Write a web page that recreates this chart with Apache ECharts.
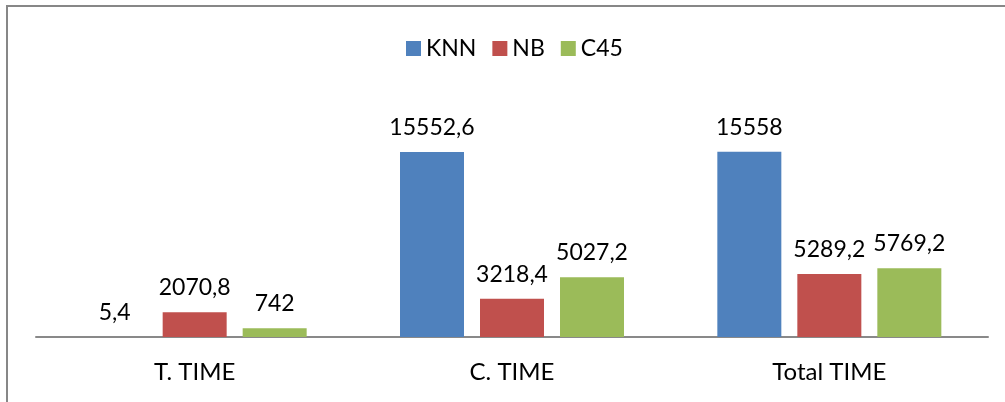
<!DOCTYPE html>
<html>
<head>
<meta charset="utf-8">
<script src="https://cdn.jsdelivr.net/npm/echarts@6/dist/echarts.min.js"></script>
<style>
html,body{margin:0;padding:0;background:#fff;}
#chart{width:1005px;height:402px;}
</style>
</head>
<body>
<div id="chart"></div>
<script>
const categories = ['T. TIME', 'C. TIME', 'Total TIME'];
const seriesNames = ['KNN', 'NB', 'C45'];
const knnValues = [5.4, 15552.6, 15558];
const nbValues = [2070.8, 3218.4, 5289.2];
const c45Values = [742, 5027.2, 5769.2];
const colors = ['#4F81BD', '#C0504D', '#9BBB59'];

const FONT = 'Lato';
const chart = echarts.init(document.getElementById('chart'));
const fmt = p => String(p.value).replace('.', ',');
function mk(name, data, color) {
  return {
    name: name,
    type: 'bar',
    data: data,
    barWidth: 64,
    barGap: '25%',
    itemStyle: { color: color },
    label: {
      show: true,
      position: 'top',
      distance: 13,
      formatter: fmt,
      color: '#000',
      fontFamily: FONT,
      fontSize: 23
    }
  };
}
chart.setOption({
  animation: false,
  backgroundColor: '#fff',
  graphic: [
    { type: 'line', shape: { x1: 7, y1: 5, x2: 7, y2: 402 }, style: { stroke: '#878787', lineWidth: 2 } },
    { type: 'line', shape: { x1: 6, y1: 6, x2: 1005, y2: 6 }, style: { stroke: '#878787', lineWidth: 2 } }
  ],
  legend: {
    data: seriesNames,
    left: 401,
    top: 32,
    itemWidth: 15,
    itemHeight: 15,
    itemGap: 16,
    icon: 'rect',
    textStyle: { fontFamily: FONT, fontSize: 23, color: '#000' }
  },
  grid: { left: 36, right: 17, top: 99, bottom: 65 },
  xAxis: {
    type: 'category',
    data: categories,
    axisLine: { lineStyle: { color: '#898989', width: 2 } },
    axisTick: { show: false },
    axisLabel: { color: '#000', fontFamily: FONT, fontSize: 24, margin: 23 }
  },
  yAxis: {
    type: 'value',
    min: 0,
    max: 20000,
    show: false,
    splitLine: { show: false }
  },
  series: [
    mk(seriesNames[0], knnValues, colors[0]),
    mk(seriesNames[1], nbValues, colors[1]),
    mk(seriesNames[2], c45Values, colors[2])
  ]
});
</script>
</body>
</html>
